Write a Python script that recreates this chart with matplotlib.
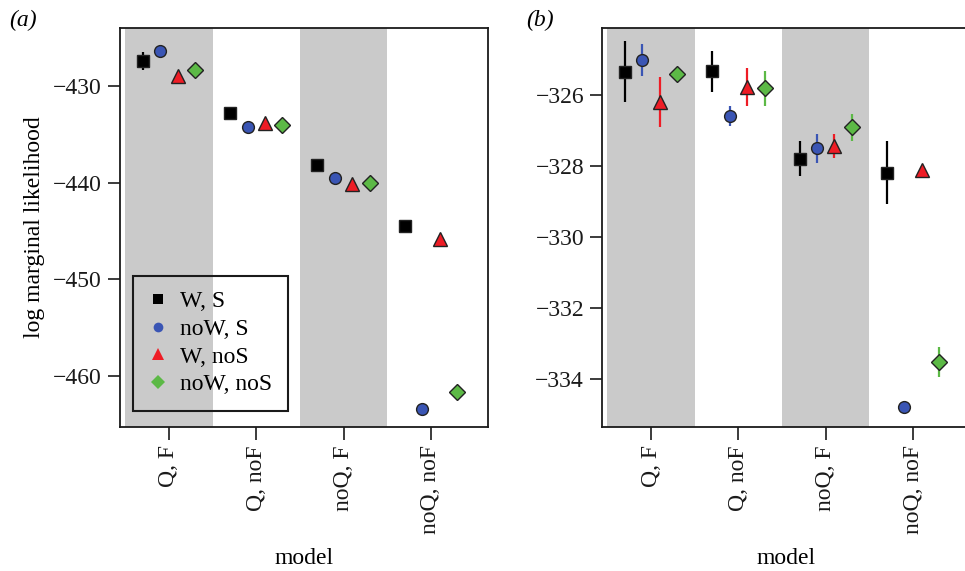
import matplotlib.pyplot as plt
from matplotlib.lines import Line2D
import numpy as np

plt.rcParams['font.family'] = ['Liberation Serif', 'DejaVu Serif']
plt.rcParams['mathtext.fontset'] = 'stix'

models = ['Q, F', 'Q, noF', 'noQ, F', 'noQ, noF']
series = ['W, S', 'noW, S', 'W, noS', 'noW, noS']

# panel (a): log marginal likelihood, one list per series (over models)
a_vals = {
    'W, S':     [-427.4, -432.8, -438.2, -444.5],
    'noW, S':   [-426.4, -434.2, -439.5, -463.4],
    'W, noS':   [-429.0, -433.8, -440.1, -445.8],
    'noW, noS': [-428.3, -434.0, -440.0, -461.7],
}
a_err = {
    'W, S':     [0.95, 0.0, 0.0, 0.0],
    'noW, S':   [0.5, 0.0, 0.0, 0.0],
    'W, noS':   [0.0, 0.0, 0.0, 0.0],
    'noW, noS': [0.0, 0.0, 0.0, 0.0],
}
# panel (b)
b_vals = {
    'W, S':     [-325.35, -325.34, -327.80, -328.19],
    'noW, S':   [-325.02, -326.59, -327.51, -334.80],
    'W, noS':   [-326.21, -325.79, -327.44, -328.12],
    'noW, noS': [-325.42, -325.82, -326.92, -333.53],
}
b_err = {
    'W, S':     [0.85, 0.58, 0.50, 0.90],
    'noW, S':   [0.44, 0.28, 0.40, 0.0],
    'W, noS':   [0.70, 0.54, 0.33, 0.12],
    'noW, noS': [0.0, 0.50, 0.39, 0.42],
}

colors = {'W, S': 'black', 'noW, S': '#3a55b4', 'W, noS': '#ee1c25', 'noW, noS': '#5cb946'}
markers = {'W, S': 's', 'noW, S': 'o', 'W, noS': '^', 'noW, noS': 'D'}
msizes = {'W, S': 9, 'noW, S': 8.5, 'W, noS': 10.5, 'noW, noS': 8.5}
offsets = {'W, S': -0.3, 'noW, S': -0.1, 'W, noS': 0.1, 'noW, noS': 0.3}

FS = 17

fig = plt.figure(figsize=(9.65, 5.71), dpi=100)
ax1 = fig.add_axes([0.1244, 0.252, 0.381, 0.699])
ax2 = fig.add_axes([0.624, 0.252, 0.381, 0.699])

x = np.arange(1, len(models) + 1)


def draw(ax, vals, errs):
    for i in (0, 2):
        ax.axvspan(x[i] - 0.5, x[i] + 0.5, color='#cacaca', lw=0, zorder=0)
    for s in series:
        ax.errorbar(x + offsets[s], vals[s], yerr=errs[s], fmt=markers[s],
                    color=colors[s], ecolor=colors[s], elinewidth=1.6, capsize=0,
                    markersize=msizes[s], markeredgecolor='#222222',
                    markeredgewidth=1.0, zorder=3)
    ax.set_xlim(0.44, 4.65)
    ax.set_xticks(x)
    ax.set_xticklabels(models, rotation=90, fontsize=FS)
    ax.set_xlabel('model', fontsize=FS, labelpad=10)
    ax.tick_params(axis='both', direction='out', length=9, width=1.2,
                   labelsize=FS, pad=4, colors='#1a1a1a')
    for sp in ax.spines.values():
        sp.set_linewidth(1.3)
        sp.set_color('#1a1a1a')


draw(ax1, a_vals, a_err)
ax1.set_ylim(-465.3, -424.0)
ax1.set_yticks([-430, -440, -450, -460])
ax1.set_ylabel('log marginal likelihood', fontsize=FS, labelpad=6)

draw(ax2, b_vals, b_err)
ax2.set_ylim(-335.36, -324.12)
ax2.set_yticks([-326, -328, -330, -332, -334])

handles = [Line2D([], [], linestyle='none', marker=markers[s], color=colors[s],
                  markersize=msizes[s] - 1.5, markeredgewidth=0) for s in series]
leg = ax1.legend(handles, series, loc='lower left', bbox_to_anchor=(0.035, 0.041),
                 borderaxespad=0, fontsize=FS, fancybox=False, framealpha=1,
                 facecolor='none', edgecolor='#1a1a1a', labelspacing=0.26,
                 handletextpad=0.55, borderpad=0.65, handlelength=0.8)
leg.get_frame().set_linewidth(1.5)

fig.text(0.010, 0.965, '(a)', fontsize=FS, style='italic', va='center')
fig.text(0.545, 0.965, '(b)', fontsize=FS, style='italic', va='center')

fig.savefig('out.png', dpi=100)
